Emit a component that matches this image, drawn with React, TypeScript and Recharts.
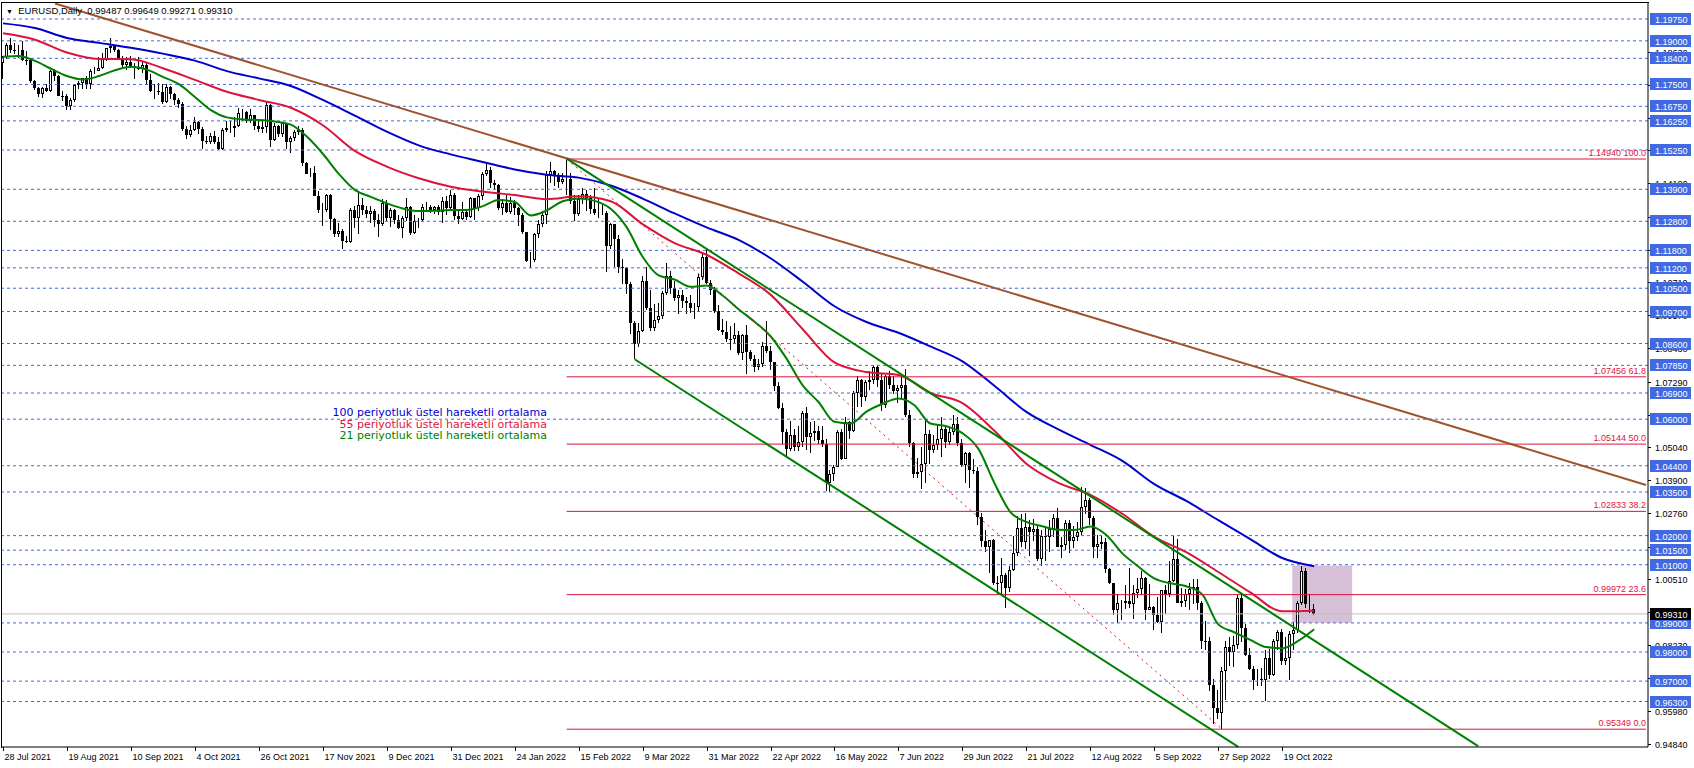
import React from 'react';
import { ComposedChart, Bar, Line, XAxis, YAxis, ReferenceLine, ReferenceArea } from 'recharts';

// EURUSD daily bars, 28 Jul 2021 .. 31 Oct 2022, one line per week
const opens = [
  1.1824, 1.1843, 1.1887,
  1.1870, 1.1868, 1.1869, 1.1835, 1.1834,
  1.1761, 1.1737, 1.1718, 1.1738, 1.1729,
  1.1795, 1.1778, 1.1712, 1.1709, 1.1676,
  1.1698, 1.1747, 1.1756, 1.1772, 1.1750,
  1.1795, 1.1798, 1.1808, 1.1838, 1.1874,
  1.1881, 1.1870, 1.1838, 1.1818, 1.1826,
  1.1813, 1.1810, 1.1804, 1.1817, 1.1765,
  1.1726, 1.1727, 1.1725, 1.1690, 1.1740,
  1.1718, 1.1696, 1.1682, 1.1597, 1.1578,
  1.1595, 1.1621, 1.1596, 1.1555, 1.1552,
  1.1572, 1.1553, 1.1528, 1.1594, 1.1599,
  1.1601, 1.1608, 1.1651, 1.1656, 1.1624,
  1.1644, 1.1609, 1.1598, 1.1603, 1.1681,
  1.1558, 1.1608, 1.1581, 1.1617, 1.1553,
  1.1567, 1.1588, 1.1594, 1.1479, 1.1444,
  1.1446, 1.1368, 1.1319, 1.1320, 1.1370,
  1.1287, 1.1236, 1.1248, 1.1212, 1.1209,
  1.1319, 1.1292, 1.1337, 1.1320, 1.1304,
  1.1314, 1.1283, 1.1271, 1.1342, 1.1290,
  1.1318, 1.1284, 1.1258, 1.1290, 1.1330,
  1.1240, 1.1282, 1.1283, 1.1328, 1.1328,
  1.1318, 1.1328, 1.1311, 1.1349, 1.1326,
  1.1370, 1.1297, 1.1287, 1.1313, 1.1296,
  1.1359, 1.1325, 1.1367, 1.1442, 1.1455,
  1.1413, 1.1403, 1.1325, 1.1343, 1.1311,
  1.1344, 1.1326, 1.1302, 1.1243, 1.1144,
  1.1146, 1.1235, 1.1272, 1.1303, 1.1440,
  1.1453, 1.1440, 1.1415, 1.1425, 1.1426,
  1.1349, 1.1306, 1.1356, 1.1374, 1.1361,
  1.1323, 1.1307, 1.1307, 1.1309, 1.1196,
  1.1270, 1.1219, 1.1124, 1.1118, 1.1063,
  1.0929, 1.0857, 1.0902, 1.1076, 1.0983,
  1.0912, 1.0942, 1.0955, 1.1034, 1.1093,
  1.1050, 1.1016, 1.1028, 1.1006, 1.0998,
  1.0983, 1.0986, 1.1087, 1.1159, 1.1067,
  1.1045, 1.0972, 1.0905, 1.0900, 1.0877,
  1.0876, 1.0889, 1.0829, 1.0891, 1.0830,
  1.0808, 1.0780, 1.0788, 1.0851, 1.0836,
  1.0796, 1.0714, 1.0640, 1.0556, 1.0497,
  1.0545, 1.0503, 1.0522, 1.0620, 1.0540,
  1.0551, 1.0561, 1.0530, 1.0514, 1.0380,
  1.0411, 1.0437, 1.0555, 1.0463, 1.0589,
  1.0561, 1.0690, 1.0734, 1.0677, 1.0727,
  1.0733, 1.0780, 1.0734, 1.0649, 1.0749,
  1.0719, 1.0697, 1.0706, 1.0717, 1.0615,
  1.0517, 1.0410, 1.0418, 1.0446, 1.0550,
  1.0494, 1.0510, 1.0533, 1.0567, 1.0522,
  1.0555, 1.0584, 1.0518, 1.0442, 1.0484,
  1.0425, 1.0423, 1.0265, 1.0183, 1.0162,
  1.0184, 1.0038, 1.0036, 1.0064, 1.0019,
  1.0082, 1.0140, 1.0225, 1.0178, 1.0229,
  1.0211, 1.0223, 1.0119, 1.0198, 1.0195,
  1.0224, 1.0260, 1.0161, 1.0167, 1.0245,
  1.0181, 1.0196, 1.0212, 1.0298, 1.0322,
  1.0259, 1.0160, 1.0171, 1.0177, 1.0086,
  1.0036, 0.9943, 0.9967, 0.9968, 0.9974,
  0.9965, 1.0003, 1.0015, 1.0054, 0.9946,
  0.9954, 0.9926, 0.9904, 1.0012, 1.0000,
  1.0043, 1.0121, 0.9968, 0.9977, 0.9998,
  1.0015, 1.0025, 0.9969, 0.9838, 0.9837,
  0.9688, 0.9606, 0.9591, 0.9736, 0.9817,
  0.9799, 0.9825, 0.9986, 0.9883, 0.9791,
  0.9741, 0.9704, 0.9707, 0.9705, 0.9778,
  0.9722, 0.9839, 0.9869, 0.9770, 0.9780,
  0.9862, 0.9877, 0.9967, 1.0079, 0.9965,
  0.99487,
];

const highs = [
  1.1848, 1.1891, 1.1909,
  1.1892, 1.1885, 1.1900, 1.1865, 1.1840,
  1.1767, 1.1742, 1.1742, 1.1752, 1.1801,
  1.1802, 1.1781, 1.1727, 1.1716, 1.1702,
  1.1749, 1.1763, 1.1774, 1.1780, 1.1802,
  1.1810, 1.1846, 1.1857, 1.1874, 1.1909,
  1.1884, 1.1872, 1.1849, 1.1845, 1.1847,
  1.1823, 1.1846, 1.1830, 1.1823, 1.1786,
  1.1750, 1.1755, 1.1751, 1.1751, 1.1745,
  1.1721, 1.1703, 1.1689, 1.1608, 1.1612,
  1.1640, 1.1624, 1.1603, 1.1572, 1.1582,
  1.1589, 1.1568, 1.1600, 1.1624, 1.1623,
  1.1639, 1.1669, 1.1667, 1.1660, 1.1665,
  1.1645, 1.1624, 1.1625, 1.1692, 1.1684,
  1.1616, 1.1611, 1.1616, 1.1617, 1.1572,
  1.1595, 1.1608, 1.1601, 1.1482, 1.1464,
  1.1471, 1.1385, 1.1343, 1.1373, 1.1375,
  1.1292, 1.1275, 1.1252, 1.1229, 1.1324,
  1.1332, 1.1383, 1.1360, 1.1334, 1.1334,
  1.1322, 1.1306, 1.1355, 1.1354, 1.1327,
  1.1323, 1.1300, 1.1297, 1.1360, 1.1332,
  1.1302, 1.1290, 1.1338, 1.1345, 1.1335,
  1.1333, 1.1336, 1.1365, 1.1368, 1.1387,
  1.1376, 1.1316, 1.1346, 1.1321, 1.1364,
  1.1361, 1.1374, 1.1448, 1.1482, 1.1465,
  1.1423, 1.1407, 1.1358, 1.1370, 1.1363,
  1.1352, 1.1330, 1.1310, 1.1244, 1.1173,
  1.1240, 1.1283, 1.1314, 1.1452, 1.1484,
  1.1456, 1.1447, 1.1446, 1.1495, 1.1446,
  1.1370, 1.1369, 1.1395, 1.1386, 1.1372,
  1.1395, 1.1361, 1.1341, 1.1314, 1.1274,
  1.1271, 1.1233, 1.1151, 1.1122, 1.1072,
  1.0937, 1.0932, 1.1092, 1.1122, 1.1043,
  1.0996, 1.0999, 1.1040, 1.1137, 1.1110,
  1.1075, 1.1043, 1.1045, 1.1020, 1.1027,
  1.0999, 1.1100, 1.1171, 1.1185, 1.1077,
  1.1053, 1.0994, 1.0944, 1.0939, 1.0920,
  1.0929, 1.0904, 1.0894, 1.0923, 1.0838,
  1.0819, 1.0806, 1.0866, 1.0936, 1.0850,
  1.0798, 1.0727, 1.0654, 1.0568, 1.0593,
  1.0566, 1.0575, 1.0627, 1.0642, 1.0592,
  1.0594, 1.0578, 1.0577, 1.0532, 1.0424,
  1.0443, 1.0563, 1.0565, 1.0606, 1.0595,
  1.0697, 1.0748, 1.0737, 1.0736, 1.0765,
  1.0787, 1.0786, 1.0756, 1.0753, 1.0764,
  1.0749, 1.0719, 1.0749, 1.0774, 1.0630,
  1.0522, 1.0468, 1.0506, 1.0601, 1.0563,
  1.0545, 1.0583, 1.0606, 1.0577, 1.0572,
  1.0615, 1.0606, 1.0531, 1.0488, 1.0486,
  1.0462, 1.0436, 1.0277, 1.0220, 1.0186,
  1.0188, 1.0061, 1.0122, 1.0070, 1.0097,
  1.0200, 1.0269, 1.0274, 1.0278, 1.0254,
  1.0258, 1.0238, 1.0220, 1.0234, 1.0254,
  1.0274, 1.0294, 1.0196, 1.0254, 1.0253,
  1.0233, 1.0248, 1.0368, 1.0364, 1.0328,
  1.0266, 1.0202, 1.0202, 1.0191, 1.0090,
  1.0038, 0.9999, 0.9978, 1.0029, 1.0090,
  1.0032, 1.0055, 1.0079, 1.0057, 1.0034,
  0.9958, 0.9988, 1.0012, 1.0031, 1.0113,
  1.0198, 1.0187, 1.0020, 1.0017, 1.0037,
  1.0050, 1.0051, 0.9977, 0.9907, 0.9853,
  0.9709, 0.9671, 0.9747, 0.9837, 0.9853,
  0.9854, 0.9999, 0.9999, 0.9897, 0.9815,
  0.9753, 0.9740, 0.9745, 0.9807, 0.9809,
  0.9845, 0.9875, 0.9879, 0.9852, 0.9872,
  0.9904, 0.9977, 1.0094, 1.0089, 0.9999,
  0.99649,
];

const lows = [
  1.1770, 1.1838, 1.1857,
  1.1856, 1.1840, 1.1831, 1.1817, 1.1755,
  1.1731, 1.1706, 1.1705, 1.1724, 1.1724,
  1.1763, 1.1711, 1.1694, 1.1664, 1.1664,
  1.1690, 1.1734, 1.1735, 1.1735, 1.1735,
  1.1785, 1.1795, 1.1802, 1.1831, 1.1857,
  1.1860, 1.1833, 1.1802, 1.1800, 1.1808,
  1.1770, 1.1800, 1.1790, 1.1750, 1.1723,
  1.1700, 1.1715, 1.1684, 1.1687, 1.1700,
  1.1680, 1.1668, 1.1591, 1.1563, 1.1570,
  1.1590, 1.1580, 1.1529, 1.1545, 1.1544,
  1.1545, 1.1524, 1.1525, 1.1586, 1.1585,
  1.1571, 1.1604, 1.1623, 1.1619, 1.1618,
  1.1592, 1.1587, 1.1582, 1.1585, 1.1535,
  1.1555, 1.1570, 1.1571, 1.1529, 1.1513,
  1.1557, 1.1575, 1.1470, 1.1444, 1.1432,
  1.1366, 1.1308, 1.1264, 1.1313, 1.1250,
  1.1226, 1.1225, 1.1186, 1.1204, 1.1206,
  1.1257, 1.1235, 1.1302, 1.1292, 1.1274,
  1.1261, 1.1227, 1.1264, 1.1281, 1.1262,
  1.1270, 1.1252, 1.1222, 1.1280, 1.1234,
  1.1236, 1.1258, 1.1278, 1.1316, 1.1310,
  1.1304, 1.1300, 1.1273, 1.1300, 1.1320,
  1.1284, 1.1272, 1.1284, 1.1285, 1.1293,
  1.1286, 1.1315, 1.1354, 1.1437, 1.1396,
  1.1386, 1.1318, 1.1301, 1.1308, 1.1306,
  1.1300, 1.1263, 1.1236, 1.1140, 1.1121,
  1.1140, 1.1222, 1.1260, 1.1270, 1.1410,
  1.1401, 1.1395, 1.1407, 1.1372, 1.1340,
  1.1280, 1.1299, 1.1340, 1.1315, 1.1305,
  1.1303, 1.1290, 1.1302, 1.1106, 1.1185,
  1.1122, 1.1101, 1.1064, 1.1031, 1.0893,
  1.0806, 1.0849, 1.0901, 1.0975, 1.0904,
  1.0903, 1.0932, 1.0943, 1.1026, 1.1030,
  1.1005, 1.0963, 1.0981, 1.0963, 1.0966,
  1.0945, 1.0968, 1.1079, 1.1063, 1.1026,
  1.0966, 1.0902, 1.0890, 1.0866, 1.0837,
  1.0860, 1.0820, 1.0805, 1.0757, 1.0799,
  1.0761, 1.0770, 1.0780, 1.0829, 1.0769,
  1.0697, 1.0635, 1.0516, 1.0471, 1.0490,
  1.0490, 1.0492, 1.0505, 1.0493, 1.0484,
  1.0525, 1.0515, 1.0504, 1.0354, 1.0350,
  1.0389, 1.0436, 1.0460, 1.0462, 1.0532,
  1.0557, 1.0641, 1.0643, 1.0661, 1.0700,
  1.0720, 1.0712, 1.0627, 1.0640, 1.0705,
  1.0685, 1.0654, 1.0674, 1.0608, 1.0506,
  1.0398, 1.0398, 1.0359, 1.0382, 1.0445,
  1.0483, 1.0493, 1.0469, 1.0500, 1.0511,
  1.0545, 1.0509, 1.0435, 1.0381, 1.0365,
  1.0412, 1.0236, 1.0161, 1.0144, 1.0072,
  1.0032, 0.9998, 0.9998, 0.9952, 1.0007,
  1.0080, 1.0130, 1.0160, 1.0153, 1.0130,
  1.0183, 1.0112, 1.0097, 1.0114, 1.0145,
  1.0196, 1.0160, 1.0123, 1.0150, 1.0141,
  1.0159, 1.0181, 1.0203, 1.0273, 1.0235,
  1.0123, 1.0122, 1.0155, 1.0072, 1.0034,
  0.9926, 0.9901, 0.9910, 0.9948, 0.9950,
  0.9914, 0.9984, 0.9997, 0.9910, 0.9943,
  0.9877, 0.9900, 0.9864, 0.9930, 0.9990,
  1.0039, 0.9967, 0.9955, 0.9955, 0.9944,
  0.9966, 0.9945, 0.9810, 0.9807, 0.9667,
  0.9553, 0.9570, 0.9535, 0.9635, 0.9751,
  0.9750, 0.9812, 0.9835, 0.9785, 0.9737,
  0.9671, 0.9684, 0.9685, 0.9632, 0.9708,
  0.9719, 0.9807, 0.9757, 0.9754, 0.9704,
  0.9808, 0.9866, 0.9963, 0.9952, 0.9935,
  0.99271,
];

const closes = [
  1.1843, 1.1887, 1.1870,
  1.1868, 1.1869, 1.1835, 1.1834, 1.1761,
  1.1737, 1.1718, 1.1738, 1.1729, 1.1795,
  1.1778, 1.1712, 1.1709, 1.1676, 1.1698,
  1.1747, 1.1756, 1.1772, 1.1750, 1.1795,
  1.1798, 1.1808, 1.1838, 1.1874, 1.1881,
  1.1870, 1.1838, 1.1818, 1.1826, 1.1813,
  1.1810, 1.1804, 1.1817, 1.1765, 1.1726,
  1.1727, 1.1725, 1.1690, 1.1740, 1.1718,
  1.1696, 1.1682, 1.1597, 1.1578, 1.1595,
  1.1621, 1.1596, 1.1555, 1.1552, 1.1572,
  1.1553, 1.1528, 1.1594, 1.1599, 1.1601,
  1.1608, 1.1651, 1.1656, 1.1624, 1.1644,
  1.1609, 1.1598, 1.1603, 1.1681, 1.1558,
  1.1608, 1.1581, 1.1617, 1.1553, 1.1567,
  1.1588, 1.1594, 1.1479, 1.1444, 1.1446,
  1.1368, 1.1319, 1.1320, 1.1370, 1.1287,
  1.1236, 1.1248, 1.1212, 1.1209, 1.1319,
  1.1292, 1.1337, 1.1320, 1.1304, 1.1314,
  1.1283, 1.1271, 1.1342, 1.1290, 1.1318,
  1.1284, 1.1258, 1.1290, 1.1330, 1.1240,
  1.1282, 1.1283, 1.1328, 1.1328, 1.1318,
  1.1328, 1.1311, 1.1349, 1.1326, 1.1370,
  1.1297, 1.1287, 1.1313, 1.1296, 1.1359,
  1.1325, 1.1367, 1.1442, 1.1455, 1.1413,
  1.1403, 1.1325, 1.1343, 1.1311, 1.1344,
  1.1326, 1.1302, 1.1243, 1.1144, 1.1146,
  1.1235, 1.1272, 1.1303, 1.1440, 1.1453,
  1.1440, 1.1415, 1.1425, 1.1426, 1.1349,
  1.1306, 1.1356, 1.1374, 1.1361, 1.1323,
  1.1307, 1.1307, 1.1309, 1.1196, 1.1270,
  1.1219, 1.1124, 1.1118, 1.1063, 1.0929,
  1.0857, 1.0902, 1.1076, 1.0983, 1.0912,
  1.0942, 1.0955, 1.1034, 1.1093, 1.1050,
  1.1016, 1.1028, 1.1006, 1.0998, 1.0983,
  1.0986, 1.1087, 1.1159, 1.1067, 1.1045,
  1.0972, 1.0905, 1.0900, 1.0877, 1.0876,
  1.0889, 1.0829, 1.0891, 1.0830, 1.0808,
  1.0780, 1.0788, 1.0851, 1.0836, 1.0796,
  1.0714, 1.0640, 1.0556, 1.0497, 1.0545,
  1.0503, 1.0522, 1.0620, 1.0540, 1.0551,
  1.0561, 1.0530, 1.0514, 1.0380, 1.0411,
  1.0437, 1.0555, 1.0463, 1.0589, 1.0561,
  1.0690, 1.0734, 1.0677, 1.0727, 1.0733,
  1.0780, 1.0734, 1.0649, 1.0749, 1.0719,
  1.0697, 1.0706, 1.0717, 1.0615, 1.0517,
  1.0410, 1.0418, 1.0446, 1.0550, 1.0494,
  1.0510, 1.0533, 1.0567, 1.0522, 1.0555,
  1.0584, 1.0518, 1.0442, 1.0484, 1.0425,
  1.0423, 1.0265, 1.0183, 1.0162, 1.0184,
  1.0038, 1.0036, 1.0064, 1.0019, 1.0082,
  1.0140, 1.0225, 1.0178, 1.0229, 1.0211,
  1.0223, 1.0119, 1.0198, 1.0195, 1.0224,
  1.0260, 1.0161, 1.0167, 1.0245, 1.0181,
  1.0196, 1.0212, 1.0298, 1.0322, 1.0259,
  1.0160, 1.0171, 1.0177, 1.0086, 1.0036,
  0.9943, 0.9967, 0.9968, 0.9974, 0.9965,
  1.0003, 1.0015, 1.0054, 0.9946, 0.9954,
  0.9926, 0.9904, 1.0012, 1.0000, 1.0043,
  1.0121, 0.9968, 0.9977, 0.9998, 1.0015,
  1.0025, 0.9969, 0.9838, 0.9837, 0.9688,
  0.9606, 0.9591, 0.9736, 0.9817, 0.9799,
  0.9825, 0.9986, 0.9883, 0.9791, 0.9741,
  0.9704, 0.9707, 0.9705, 0.9778, 0.9722,
  0.9839, 0.9869, 0.9770, 0.9780, 0.9862,
  0.9877, 0.9967, 1.0079, 0.9965, 0.9965,
  0.99310,
];

// bottom axis: one label every 16 bars
const dateLabels = [
  '28 Jul 2021', '19 Aug 2021', '10 Sep 2021', '4 Oct 2021', '26 Oct 2021', '17 Nov 2021',
  '9 Dec 2021', '31 Dec 2021', '24 Jan 2022', '15 Feb 2022', '9 Mar 2022', '31 Mar 2022',
  '22 Apr 2022', '16 May 2022', '7 Jun 2022', '29 Jun 2022', '21 Jul 2022', '12 Aug 2022',
  '5 Sep 2022', '27 Sep 2022', '19 Oct 2022',
];
const LABEL_EVERY = 16;
const TOTAL_SLOTS = 412; // bars + empty space on the right

// moving averages (ema21 every 4th bar, others every 8th bar)
const EMA21_STEP = 4;
const ema21 = [
  1.1845, 1.1848, 1.1831, 1.1804, 1.1779, 1.1767, 1.1779, 1.1799, 1.1811, 1.1801,
  1.1776, 1.1751, 1.1707, 1.1662, 1.1637, 1.1630, 1.1628, 1.1623, 1.1612, 1.1571,
  1.1512, 1.1443, 1.1388, 1.1364, 1.1342, 1.1324, 1.1315, 1.1316, 1.1319, 1.1319,
  1.1332, 1.1353, 1.1346, 1.1300, 1.1317, 1.1349, 1.1358, 1.1350, 1.1323, 1.1260,
  1.1158, 1.1094, 1.1080, 1.1055, 1.1059, 1.1025, 1.0978, 1.0935, 1.0885, 1.0808,
  1.0717, 1.0659, 1.0591, 1.0585, 1.0626, 1.0653, 1.0671, 1.0648, 1.0585, 1.0576,
  1.0552, 1.0498, 1.0381, 1.0281, 1.0247, 1.0232, 1.0220, 1.0219, 1.0231, 1.0202,
  1.0139, 1.0094, 1.0053, 1.0036, 1.0026, 0.9998, 0.9895, 0.9868, 0.9842, 0.9817,
  0.9813, 0.9838, 0.9878,
];
const EMA_SLOW_STEP = 8;
const ema55 = [
  1.1926, 1.1904, 1.1860, 1.1838, 1.1837, 1.1806, 1.1766, 1.1725, 1.1697, 1.1670,
  1.1610, 1.1522, 1.1468, 1.1428, 1.1399, 1.1382, 1.1370, 1.1356, 1.1366, 1.1349,
  1.1270, 1.1205, 1.1165, 1.1101, 1.1028, 1.0910, 1.0795, 1.0762, 1.0752, 1.0690,
  1.0655, 1.0560, 1.0447, 1.0381, 1.0340, 1.0275, 1.0196, 1.0143, 1.0075, 1.0005,
  0.9940, 0.9942,
];
const ema100 = [
  1.1960, 1.1944, 1.1910, 1.1893, 1.1876, 1.1856, 1.1832, 1.1796, 1.1771, 1.1745,
  1.1697, 1.1643, 1.1588, 1.1541, 1.1510, 1.1484, 1.1458, 1.1440, 1.1430, 1.1403,
  1.1358, 1.1307, 1.1259, 1.1216, 1.1153, 1.1073, 1.0988, 1.0934, 1.0897, 1.0850,
  1.0799, 1.0715, 1.0625, 1.0565, 1.0512, 1.0457, 1.0377, 1.0319, 1.0253, 1.0188,
  1.0123, 1.0095,
];

// horizontal levels with blue price tags
const levelLines = [
  1.1975, 1.19, 1.184, 1.175, 1.1675, 1.1625, 1.1525, 1.139, 1.128, 1.118, 1.112, 1.105, 1.097,
  1.086, 1.0785, 1.069, 1.06, 1.044, 1.035, 1.02, 1.015, 1.01, 0.99, 0.98, 0.97, 0.963,
];
const scaleTicks = [
  1.1863, 1.1749, 1.1635, 1.1524, 1.141, 1.1296, 1.1182, 1.1071, 1.0957, 1.0843, 1.0729,
  1.0615, 1.0504, 1.039, 1.0276, 1.0162, 1.0051, 0.9937, 0.9823, 0.9712, 0.9598, 0.9484,
];
const lastPrice = 0.9931;

// fibonacci retracement (Feb 10 high -> Sep 28 low)
const fibStartBar = 141;
const fibLevels = [1.1494, 1.07456, 1.05144, 1.02833, 0.99972, 0.95349];
const fibLabels = ['1.14940 100.0', '1.07456 61.8', '1.05144 50.0', '1.02833 38.2', '0.99972 23.6', '0.95349 0.0'];
const fibDiagonal = [{ x: 141, y: 1.1494 }, { x: 305, y: 0.95349 }];

// trend lines
const resistanceLine = [{ x: 13, y: 1.2028 }, { x: 411, y: 1.0374 }];
const channelTop = [{ x: 141, y: 1.1495 }, { x: 369, y: 0.9477 }];
const channelBottom = [{ x: 158, y: 1.0806 }, { x: 309, y: 0.9474 }];

// rectangle zone
const zone = { x1: 323, x2: 337, y1: 0.9901, y2: 1.0097 };

const Y_MIN = 0.94737;
const Y_MAX = 1.203;

const FONT = '"Liberation Sans", Arial, sans-serif';
const BLUE = '#4169E1';
const CRIMSON = '#DC143C';

const rows = Array.from({ length: TOTAL_SLOTS }, (_, i) => ({
  i,
  o: opens[i],
  h: highs[i],
  l: lows[i],
  c: closes[i],
  e21: i % EMA21_STEP === 0 ? ema21[i / EMA21_STEP] : undefined,
  e55: i % EMA_SLOW_STEP === 0 ? ema55[i / EMA_SLOW_STEP] : undefined,
  e100: i % EMA_SLOW_STEP === 0 ? ema100[i / EMA_SLOW_STEP] : undefined,
}));

const levelSet = new Set(levelLines);

const Candle = (props: any) => {
  const { x, y, width, height, payload } = props;
  if (!payload || payload.h == null || !isFinite(y) || !isFinite(height)) return null;
  const top = Math.min(y, y + height);
  const bottom = Math.max(y, y + height);
  const span = payload.h - payload.l;
  const py = (v: number) => (span > 0 ? top + ((payload.h - v) / span) * (bottom - top) : top);
  const cx = Math.floor(x + width / 2) + 0.5;
  const yo = py(payload.o);
  const yc = py(payload.c);
  const bt = Math.round(Math.min(yo, yc));
  const bb = Math.round(Math.max(yo, yc));
  const bull = payload.c >= payload.o;
  return (
    <g shapeRendering="crispEdges">
      <line x1={cx} x2={cx} y1={Math.round(top)} y2={Math.round(bottom)} stroke="#000" strokeWidth={1} />
      {bull ? (
        <rect x={cx - 1} y={bt + 0.5} width={2} height={Math.max(bb - bt - 1, 0)} fill="#fff" stroke="#000" strokeWidth={1} />
      ) : (
        <rect x={cx - 1.5} y={bt} width={3} height={Math.max(bb - bt, 1)} fill="#000" />
      )}
    </g>
  );
};

const DateTick = (props: any) => {
  const { x, y, payload } = props;
  const idx = Number(payload.value);
  if (idx % LABEL_EVERY !== 0) return null;
  const label = dateLabels[idx / LABEL_EVERY];
  if (!label) return null;
  const px = Math.round(x) + 0.5;
  return (
    <g>
      <line x1={px} x2={px} y1={y} y2={y + 4} stroke="#000" strokeWidth={1} />
      <text x={px + 1} y={y + 13} fontSize={9} fontFamily={FONT} fill="#000">
        {label}
      </text>
    </g>
  );
};

const PriceTick = (props: any) => {
  const { x, y, payload } = props;
  const v = payload.value as number;
  const fx = Math.round(x);
  const fy = Math.round(y);
  const txt = v.toFixed(5);
  if (v === lastPrice || levelSet.has(v)) {
    const bg = v === lastPrice ? '#000' : BLUE;
    return (
      <g>
        <rect x={fx + 2} y={fy - 6} width={41} height={12} fill={bg} />
        <text x={fx + 7} y={fy + 3.5} fontSize={9} fontFamily={FONT} fill="#fff">
          {txt}
        </text>
      </g>
    );
  }
  return (
    <g>
      <line x1={fx} x2={fx + 3} y1={fy + 0.5} y2={fy + 0.5} stroke="#000" strokeWidth={1} />
      <text x={fx + 7} y={fy + 3.5} fontSize={9} fontFamily={FONT} fill="#000">
        {txt}
      </text>
    </g>
  );
};

const FibLabel = (props: any) => {
  const { viewBox, text } = props;
  if (!viewBox) return null;
  return (
    <text x={viewBox.x + viewBox.width} y={viewBox.y - 3} textAnchor="end" fontSize={9} fontFamily={FONT} fill={CRIMSON}>
      {text}
    </text>
  );
};

const App: React.FC = () => {
  return (
    <div style={{ position: 'absolute', left: 0, top: 0, width: 1694, height: 768, background: '#fff', overflow: 'hidden' }}>
      <ComposedChart width={1694} height={768} data={rows} margin={{ top: 3, right: 0, bottom: 0, left: 1 }}>
        <XAxis
          dataKey="i"
          type="category"
          interval={0}
          tick={DateTick}
          tickLine={false}
          tickSize={0}
          tickMargin={0}
          height={21}
          axisLine={{ stroke: '#000' }}
        />
        <YAxis
          orientation="right"
          type="number"
          domain={[Y_MIN, Y_MAX]}
          allowDataOverflow
          ticks={[...scaleTicks, ...levelLines, lastPrice]}
          interval={0}
          tick={PriceTick}
          tickLine={false}
          tickSize={0}
          tickMargin={0}
          width={46}
          axisLine={{ stroke: '#000' }}
        />
        <ReferenceArea x1={zone.x1} x2={zone.x2} y1={zone.y1} y2={zone.y2} fill="#D8BFD8" fillOpacity={1} stroke="none" />
        {levelLines.map((v) => (
          <ReferenceLine key={'lv' + v} y={v} stroke={BLUE} strokeDasharray="3 3" strokeWidth={1} />
        ))}
        <ReferenceLine y={lastPrice} stroke="#C0C0C0" strokeWidth={1} />
        <Bar dataKey={(d: any) => (d.h != null ? [d.l, d.h] : null)} barSize={3} shape={Candle} isAnimationActive={false} />
        <Line dataKey="e100" type="monotone" stroke="#0000CD" strokeWidth={2} dot={false} connectNulls isAnimationActive={false} />
        <Line dataKey="e55" type="monotone" stroke={CRIMSON} strokeWidth={2} dot={false} connectNulls isAnimationActive={false} />
        <Line dataKey="e21" type="monotone" stroke="#008000" strokeWidth={2} dot={false} connectNulls isAnimationActive={false} />
        {fibLevels.map((v, k) => (
          <ReferenceLine
            key={'fib' + v}
            segment={[{ x: fibStartBar, y: v }, { x: TOTAL_SLOTS - 1, y: v }]}
            stroke={CRIMSON}
            strokeWidth={1}
            label={<FibLabel text={fibLabels[k]} />}
          />
        ))}
        <ReferenceLine segment={fibDiagonal} stroke={CRIMSON} strokeWidth={1} strokeDasharray="2 4" />
        <ReferenceLine segment={resistanceLine} stroke="#A0522D" strokeWidth={2} />
        <ReferenceLine segment={channelTop} stroke="#008000" strokeWidth={2} />
        <ReferenceLine segment={channelBottom} stroke="#008000" strokeWidth={2} />
      </ComposedChart>

      <div style={{ position: 'absolute', left: 1, top: 2, width: 1647, height: 745, borderLeft: '1px solid #000', borderTop: '1px solid #000', pointerEvents: 'none' }} />

      <div style={{ position: 'absolute', left: 6, top: 4, fontFamily: FONT, fontSize: 9.5, lineHeight: '13px', whiteSpace: 'pre', color: '#000' }}>
        <span style={{ fontSize: 7, verticalAlign: 'middle' }}>▼</span>
        {'  EURUSD,Daily  0.99487 0.99649 0.99271 0.99310'}
      </div>

      <div style={{ position: 'absolute', left: 300, top: 407, width: 247, textAlign: 'right', fontFamily: '"DejaVu Sans", sans-serif', fontSize: 11, lineHeight: '11.5px', whiteSpace: 'nowrap' }}>
        <div style={{ color: '#0000CD' }}>100 periyotluk üstel hareketli ortalama</div>
        <div style={{ color: CRIMSON }}>55 periyotluk üstel hareketli ortalama</div>
        <div style={{ color: '#008000' }}>21 periyotluk üstel hareketli ortalama</div>
      </div>
    </div>
  );
};

export default App;
